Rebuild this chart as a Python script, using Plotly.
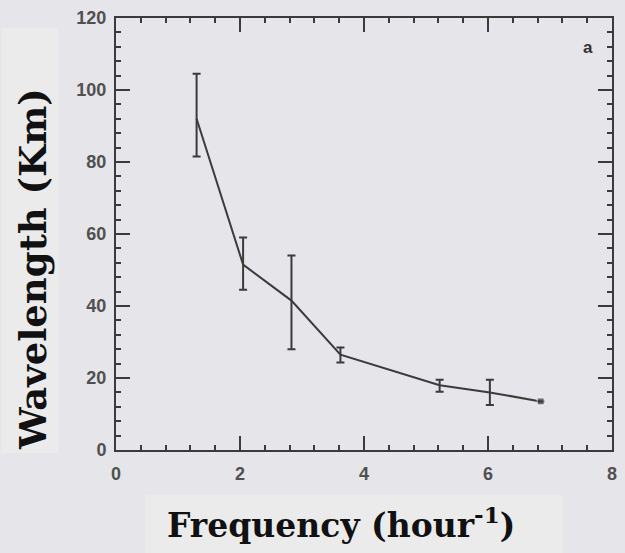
import plotly.graph_objects as go

# Data
frequency = [1.30, 2.05, 2.83, 3.62, 5.22, 6.03, 6.85]
wavelength = [92, 51.5, 41.5, 26.5, 18, 16, 13.5]
err_plus = [12.5, 7.5, 12.5, 2.0, 1.5, 3.5, 0]
err_minus = [10.5, 7.0, 13.5, 2.2, 1.8, 3.5, 0]
marker_sizes = [0, 0, 0, 0, 0, 0, 7]

x_ticks = [0, 2, 4, 6, 8]
y_ticks = [0, 20, 40, 60, 80, 100, 120]

BG = "#e5e5ea"
PATCH = "#ebebeb"
INK = "#3b3b3b"

fig = go.Figure()
fig.add_trace(go.Scatter(
    x=frequency, y=wavelength,
    mode="lines+markers",
    line=dict(color=INK, width=2),
    marker=dict(symbol="square", size=marker_sizes, color=INK),
    error_y=dict(type="data", symmetric=False, array=err_plus, arrayminus=err_minus,
                 color=INK, thickness=2, width=4),
    showlegend=False,
))

axis_common = dict(
    showline=True, linecolor=INK, linewidth=2, mirror="ticks",
    ticks="inside", ticklen=14, tickwidth=2, tickcolor=INK,
    showgrid=False, zeroline=False,
    tickfont=dict(family="Liberation Sans, Arial", size=18, color="#505050", weight="bold"),
)

fig.update_xaxes(range=[0, 8], tickvals=x_ticks, ticktext=[str(v) for v in x_ticks],
                 minor=dict(ticks="inside", ticklen=5, tickwidth=2, tickcolor=INK, dtick=0.4, showgrid=False),
                 ticklabelstandoff=6, **axis_common)
fig.update_yaxes(range=[0, 120], tickvals=y_ticks, ticktext=[str(v) for v in y_ticks],
                 minor=dict(ticks="inside", ticklen=5, tickwidth=2, tickcolor=INK, dtick=4, showgrid=False),
                 ticklabelstandoff=4, **axis_common)

# light patches behind the axis titles
fig.add_shape(type="rect", xref="paper", yref="paper",
              x0=(0 - 116) / 501, x1=(58 - 116) / 501,
              y0=(450 - 453) / 435, y1=(450 - 25) / 435,
              fillcolor=PATCH, line=dict(width=0), layer="below")
fig.add_shape(type="rect", xref="paper", yref="paper",
              x0=(145 - 116) / 501, x1=(567 - 116) / 501,
              y0=(450 - 560) / 435, y1=(450 - 495) / 435,
              fillcolor=PATCH, line=dict(width=0), layer="below")

fig.add_annotation(text="Frequency (hour<sup>-1</sup>)", xref="paper", yref="paper",
                   x=(343 - 116) / 501, y=(450 - 524) / 435, showarrow=False,
                   xanchor="center", yanchor="middle",
                   font=dict(family="DejaVu Serif", size=33, color="#111111", weight="bold"))
fig.add_annotation(text="Wavelength (Km)", xref="paper", yref="paper",
                   x=(32 - 116) / 501, y=(450 - 268) / 435, showarrow=False,
                   textangle=-90, xanchor="center", yanchor="middle",
                   font=dict(family="DejaVu Serif", size=37, color="#111111", weight="bold"))
fig.add_annotation(text="a", xref="paper", yref="paper",
                   x=(593 - 116) / 501, y=(450 - 45) / 435, showarrow=False,
                   xanchor="center", yanchor="middle",
                   font=dict(family="Liberation Sans, Arial", size=17, color="#333333", weight="bold"))

fig.update_layout(
    width=625, height=553,
    margin=dict(l=116, r=8, t=15, b=103),
    paper_bgcolor=BG, plot_bgcolor=BG,
)

fig.write_html("out.html")
